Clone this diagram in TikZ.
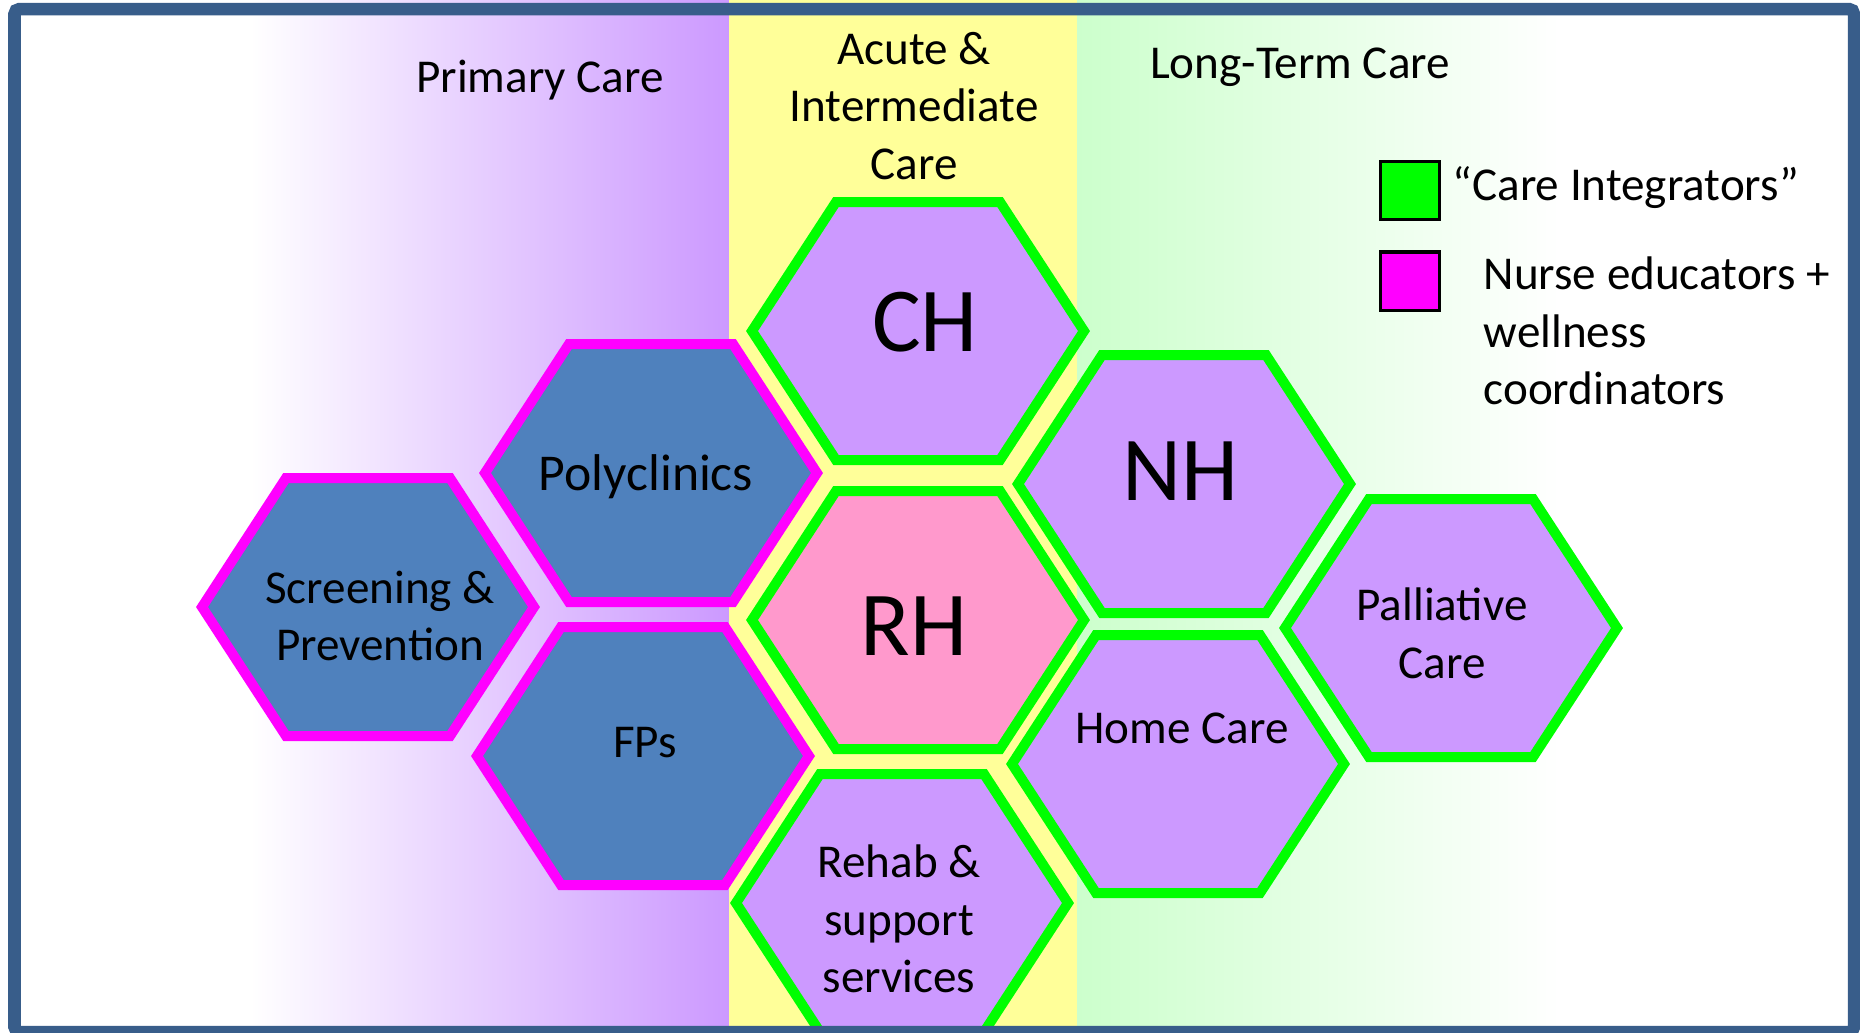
\documentclass[tikz,border=0pt]{standalone}
\usepackage{fontspec}
\setmainfont{Carlito}
\definecolor{framebl}{RGB}{56,93,138}
\definecolor{lilac}{RGB}{204,153,255}
\definecolor{paleyellow}{RGB}{255,255,153}
\definecolor{mint}{RGB}{204,255,204}
\definecolor{cigreen}{RGB}{0,255,0}
\definecolor{edmagenta}{RGB}{255,0,255}
\definecolor{hexblue}{RGB}{79,129,189}
\definecolor{rhpink}{RGB}{255,153,204}
\begin{document}
\begin{tikzpicture}[x=0.01cm,y=-0.01cm,
    txt/.style={font=\fontsize{13.4}{16.4}\selectfont,align=center,inner sep=0pt},
    big/.style={font=\fontsize{26}{30}\selectfont,inner sep=0pt},
    integrator/.style={draw=cigreen,fill=lilac,line width=0.1cm},
    educator/.style={draw=edmagenta,fill=hexblue,line width=0.1cm},
    keybox/.style={draw=black,line width=0.03cm,minimum width=0.59cm,minimum height=0.58cm,inner sep=0pt},
    hexcell/.pic={\path[pic actions] (-166,0) -- (-82,-129) -- (82,-129) -- (166,0) -- (82,129) -- (-82,129) -- cycle;}]
  \useasboundingbox (0,0) rectangle (1860,1032);
  \clip (0,0) rectangle (1860,1032);
  % bands
  \fill[white] (0,0) rectangle (1860,1032);
  \shade[left color=white,right color=lilac] (250,0) rectangle (729,1032);
  \fill[paleyellow] (729,0) rectangle (1077,1032);
  \shade[left color=mint,right color=white] (1077,0) rectangle (1560,1032);
  \node[txt,anchor=base] (primary) at (540,92) {Primary Care};
  \node[txt] (acute) at (914,106) {Acute \&\\Intermediate\\Care};
  \node[txt,anchor=base] (longterm) at (1300,78) {Long-Term Care};
  % cells
  \pic[integrator] at (918,331) {hexcell};
  \pic[integrator] at (1184,484) {hexcell};
  \pic[integrator,fill=rhpink] at (918,620) {hexcell};
  \pic[educator] at (651,473) {hexcell};
  \pic[educator] at (368,607) {hexcell};
  \pic[educator] at (643,756) {hexcell};
  \pic[integrator] at (902,903) {hexcell};
  \pic[integrator] at (1178,764) {hexcell};
  \pic[integrator] at (1451,628) {hexcell};
  \node[big] (ch) at (925,322) {CH};
  \node[big] (nh) at (1180,471) {NH};
  \node[big] (rh) at (914,626) {RH};
  \node[txt,font=\fontsize{14.7}{18}\selectfont] (poly) at (646,477) {Polyclinics};
  \node[txt] (screen) at (380,616) {Screening \&\\Prevention};
  \node[txt] (fps) at (645,743) {FPs};
  \node[txt] (rehab) at (899,919) {Rehab \&\\support\\services};
  \node[txt] (home) at (1182,728) {Home Care};
  \node[txt] (pall) at (1442,633) {Palliative\\Care};
  % key
  \node[keybox,fill=cigreen] (keyci) at (1410,190.5) {};
  \node[keybox,fill=edmagenta] (keyed) at (1410,281) {};
  \node[txt,anchor=base west] (keycitxt) at (1452,200) {“Care Integrators”};
  \node[txt,align=left,anchor=west] (keyedtxt) at (1483,331) {Nurse educators +\\wellness\\coordinators};
  \draw[framebl,line width=0.125cm,rounded corners=0.05cm] (14.5,9) rectangle (1854,1032);
\end{tikzpicture}
\end{document}
